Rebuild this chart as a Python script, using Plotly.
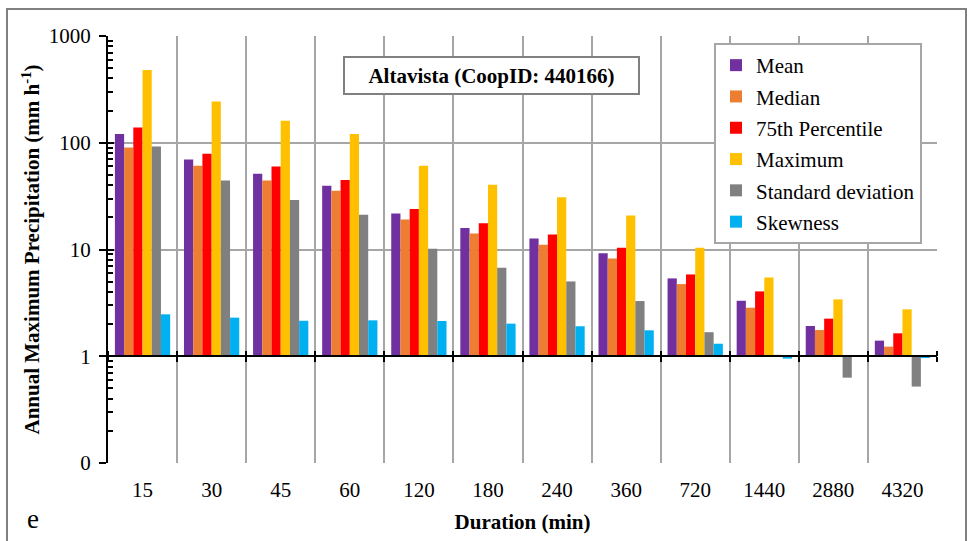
import plotly.graph_objects as go

durations = ["15", "30", "45", "60", "120", "180", "240", "360", "720", "1440", "2880", "4320"]
mean = [120.6, 69.8, 51.3, 39.6, 21.7, 15.9, 12.7, 9.24, 5.36, 3.31, 1.92, 1.40]
median = [90.4, 61.0, 44.2, 35.6, 19.1, 14.1, 11.1, 8.24, 4.74, 2.85, 1.76, 1.23]
p75 = [139.0, 78.9, 60.0, 44.8, 24.0, 17.6, 13.8, 10.4, 5.84, 4.05, 2.25, 1.64]
maximum = [481.0, 243.0, 161.0, 120.6, 61.0, 40.5, 30.8, 20.8, 10.4, 5.47, 3.41, 2.75]
std_dev = [92.3, 44.2, 29.1, 21.2, 10.15, 6.75, 5.02, 3.29, 1.68, 1.03, 0.63, 0.52]
skewness = [2.47, 2.30, 2.15, 2.17, 2.14, 2.02, 1.91, 1.75, 1.31, 0.95, 1.0, 0.97]

series = [
    ("Mean", mean, "#7030A0"),
    ("Median", median, "#ED7D31"),
    ("75th Percentile", p75, "#FF0000"),
    ("Maximum", maximum, "#FFC000"),
    ("Standard deviation", std_dev, "#808080"),
    ("Skewness", skewness, "#00B0F0"),
]

FONT = "Liberation Serif, Times New Roman, Times, serif"
FS = 21
BASE = 1.0
GRID = "#A6A6A6"

fig = go.Figure()
for i, (name, vals, color) in enumerate(series):
    fig.add_trace(go.Bar(
        x=durations,
        y=[v - BASE for v in vals],
        base=[BASE] * len(vals),
        customdata=vals,
        hovertemplate="%{x}: %{customdata}<extra>" + name + "</extra>",
        name=name,
        legendgroup=f"g{i}",
        marker=dict(color=color, line=dict(width=0)),
    ))

n = len(durations)
boundaries = [k - 0.5 for k in range(n + 1)]
major_vals = [0.1, 1, 10, 100, 1000]
minor_vals = [m * 10 ** e for e in range(-1, 3) for m in range(2, 10)]

fig.update_layout(
    width=967, height=541,
    margin=dict(l=108, r=30, t=36, b=78),
    paper_bgcolor="white", plot_bgcolor="white",
    font=dict(family=FONT, color="black", size=FS),
    barmode="group", bargap=0.2, bargroupgap=0,
    showlegend=True,
    legend=dict(
        x=(714 - 108) / 829, y=(463 - 43) / 427, xanchor="left", yanchor="top",
        bgcolor="white", bordercolor=GRID, borderwidth=2,
        font=dict(family=FONT, size=FS),
        tracegroupgap=1, itemwidth=30,
    ),
    xaxis=dict(
        type="category", range=[-0.5, n - 0.5],
        tickson="boundaries", ticks="", showgrid=True, gridcolor=GRID, gridwidth=2,
        showline=False, tickfont=dict(size=FS), ticklabelstandoff=12,
        title=dict(text="<b>Duration (min)</b>", font=dict(size=FS), standoff=13),
    ),
    xaxis2=dict(
        overlaying="x", anchor="free", position=0.25, range=[-0.5, n - 0.5],
        showline=True, linecolor="black", linewidth=2,
        tickmode="array", tickvals=boundaries, ticks="outside", ticklen=5,
        tickwidth=2, tickcolor="black", showticklabels=False, showgrid=False, zeroline=False,
    ),
    xaxis3=dict(
        overlaying="x", anchor="free", position=0.25, range=[-0.5, n - 0.5],
        showline=False, side="top",
        tickmode="array", tickvals=boundaries, ticks="outside", ticklen=5,
        tickwidth=2, tickcolor="black", showticklabels=False, showgrid=False, zeroline=False,
    ),
    yaxis=dict(
        type="log", range=[-1, 3],
        tickmode="array", tickvals=major_vals, ticktext=["0", "1", "10", "100", "1000"],
        ticks="outside", ticklen=7, tickwidth=2, tickcolor="black",
        showline=True, linecolor="black", linewidth=2,
        showgrid=True, gridcolor=GRID, gridwidth=2,
        tickfont=dict(size=FS), ticklabelstandoff=4,
        minor=dict(tickmode="array", tickvals=minor_vals, ticks="inside", ticklen=5,
                   tickwidth=2, tickcolor="black", showgrid=False),
        title=dict(text="<b>Annual Maximum Precipitation (mm h<sup>-1</sup>)</b>",
                   font=dict(size=FS), standoff=3),
    ),
    yaxis2=dict(
        overlaying="y", anchor="x", side="left", type="log", range=[-1, 3],
        tickmode="array", tickvals=major_vals, ticks="inside", ticklen=6,
        tickwidth=2, tickcolor="black", showticklabels=False, showgrid=False,
        showline=False, zeroline=False,
    ),
)

# invisible traces to activate overlay axes
for xa, ya in (("x2", "y"), ("x3", "y"), ("x", "y2")):
    fig.add_trace(go.Scatter(x=[0] if xa != "x" else [durations[0]], y=[1], xaxis=xa, yaxis=ya,
                             mode="markers", marker=dict(opacity=0),
                             showlegend=False, hoverinfo="skip"))

# chart title box
fig.add_annotation(
    xref="paper", yref="paper", x=(491 - 108) / 829, y=(463 - 75) / 427,
    xanchor="center", yanchor="middle",
    text="<b>Altavista (CoopID: 440166)</b>", showarrow=False,
    font=dict(family=FONT, size=FS, color="black"),
    bgcolor="white", bordercolor="#808080", borderwidth=2, width=291, height=33,
)
# panel letter
fig.add_annotation(
    xref="paper", yref="paper", x=(33 - 108) / 829, y=(463 - 519) / 427,
    xanchor="center", yanchor="middle",
    text="e", showarrow=False, font=dict(family=FONT, size=27, color="black"),
)
# outer frame
fig.add_shape(type="rect", xref="paper", yref="paper",
              x0=(7 - 108) / 829, x1=(966 - 108) / 829, y0=-0.5, y1=(463 - 9) / 427,
              line=dict(color="#808080", width=2), fillcolor="rgba(0,0,0,0)", layer="below")

fig.write_html("out.html")
